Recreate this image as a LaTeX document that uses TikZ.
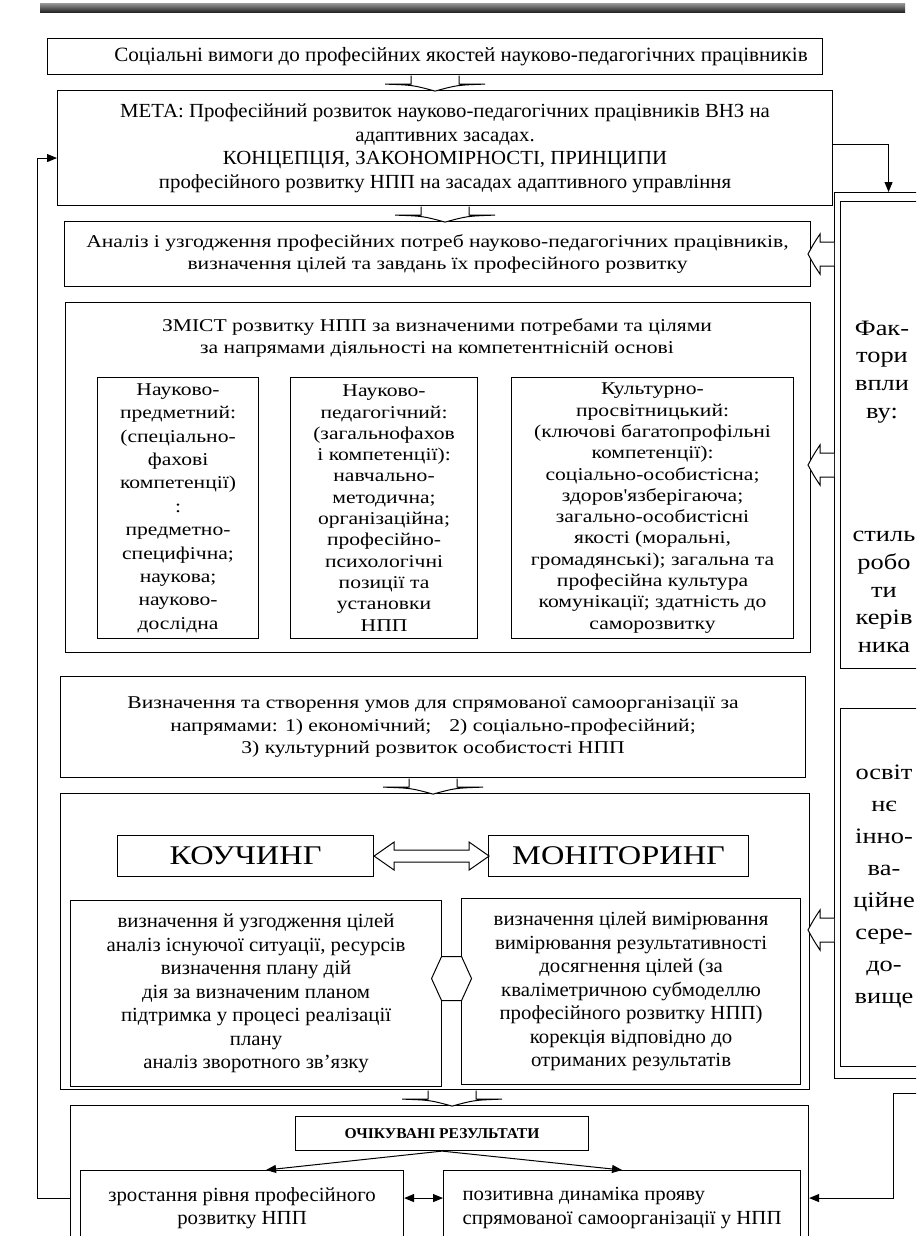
\documentclass[tikz,border=0pt]{standalone}
\usepackage{fontspec}
\setmainfont{Liberation Serif}[FakeStretch=1.04]
\newfontfamily\widefont{Liberation Serif}[FakeStretch=1.2]
\usetikzlibrary{arrows.meta,calc}

\begin{document}
\begin{tikzpicture}[x=1pt,y=-1pt,
    box/.style={draw,line width=1.1pt,anchor=north west,inner sep=0pt,align=center,fill=white},
    hollow/.style={draw,line width=1pt,fill=white},
    narrow/.style={font=\fontsize{20}{23.5}\selectfont},
    wide/.style={font=\widefont\fontsize{18}{22.5}\selectfont},
    factortext/.style={font=\widefont\fontsize{22}{27.7}\selectfont,align=center},
    >={Triangle[length=10pt,width=8pt]},
    downarrow/.pic={\draw[hollow] (-24,0.6) -- (-24,9) -- (-50,9) .. controls (-22,10) .. (0,16) .. controls (22,10) .. (50,9) -- (24,9) -- (24,0.6);},
    leftarrow/.pic={\draw[hollow] (0,-12) -- (-14,-12) -- (-14,-20) .. controls (-20,-11) .. (-26,0) .. controls (-20,11) .. (-14,20) -- (-14,12) -- (0,12);}
  ]
  \useasboundingbox (0,0) rectangle (916,1236);
  \clip (0,0) rectangle (916,1236);
  \fill[white] (0,0) rectangle (916,1236);

  %top rule
  \shade[top color=black!45,bottom color=black!90] (40,4) rectangle (905,13);

  %goal
  \node[box,font=\fontsize{20.3}{23.5}\selectfont,minimum width=775,minimum height=36] (social) at (47,38)
    {\hspace*{52pt}Соціальні вимоги до професійних якостей науково-педагогічних працівників};
  \node[box,narrow,minimum width=775,minimum height=115] (goal) at (57,90)
    {МЕТА: Професійний розвиток науково-педагогічних працівників ВНЗ на\\
     адаптивних засадах.\\
     КОНЦЕПЦІЯ, ЗАКОНОМІРНОСТІ, ПРИНЦИПИ\\
     професійного розвитку НПП на засадах адаптивного управління};
  \node[box,wide,minimum width=746,minimum height=65] (analysis) at (64,221)
    {Аналіз і узгодження професійних потреб науково-педагогічних працівників,\\
     визначення цілей та завдань їх професійного розвитку};

  %content
  \node[box,minimum width=745,minimum height=350] (content) at (65,302) {};
  \node[wide,align=center] (contenttitle) at (437,338)
    {ЗМІСТ розвитку НПП за визначеними потребами та цілями\\
     за напрямами діяльності на компетентнісній основі};
  \node[box,font=\widefont\fontsize{18}{23.4}\selectfont,minimum width=161,minimum height=261] (subject) at (97,377)
    {Науково-\\предметний:\\(спеціально-\\фахові\\компетенції)\\:\\предметно-\\специфічна;\\наукова;\\науково-\\дослідна};
  \node[box,font=\widefont\fontsize{18}{21.3}\selectfont,minimum width=187,minimum height=261] (pedagogy) at (290,377)
    {Науково-\\педагогічний:\\(загальнофахов\\і компетенції):\\навчально-\\методична;\\організаційна;\\професійно-\\психологічні\\позиції та\\установки\\НПП};
  \node[box,font=\widefont\fontsize{18}{21.3}\selectfont,minimum width=282,minimum height=261] (culture) at (511,377)
    {Культурно-\\просвітницький:\\(ключові багатопрофільні\\компетенції):\\соціально-особистісна;\\здоров'язберігаюча;\\загально-особистісні\\якості (моральні,\\громадянські); загальна та\\професійна культура\\комунікації; здатність до\\саморозвитку};

  %conditions
  \node[box,wide,minimum width=745,minimum height=101] (conditions) at (60,676)
    {Визначення та створення умов для спрямованої самоорганізації за\\
     напрямами: 1) економічний;\quad 2) соціально-професійний;\\
     3) культурний розвиток особистості НПП};

  %coaching and monitoring
  \node[box,minimum width=749,minimum height=296] (coach) at (60,793) {};
  \node[box,font=\widefont\fontsize{27}{30}\selectfont,minimum width=256,minimum height=41] (coaching) at (117,835) {КОУЧИНГ};
  \node[box,font=\widefont\fontsize{27}{30}\selectfont,minimum width=260,minimum height=41] (monitoring) at (488,835) {МОНІТОРИНГ};
  \node[box,narrow,minimum width=371,minimum height=186] (cleft) at (70,900)
    {визначення й узгодження цілей\\аналіз існуючої ситуації, ресурсів\\визначення плану дій\\дія за визначеним планом\\підтримка у процесі реалізації\\плану\\аналіз зворотного зв'язку};
  \node[box,narrow,minimum width=339,minimum height=186] (cright) at (461,898)
    {визначення цілей вимірювання\\вимірювання результативності\\досягнення цілей (за\\кваліметричною субмоделлю\\професійного розвитку НПП)\\корекція відповідно до\\отриманих результатів};

  %results
  \node[box,minimum width=738,minimum height=185] (results) at (70,1105) {};
  \node[box,font=\bfseries\fontsize{15}{18}\selectfont,minimum width=293,minimum height=34] (expected) at (295,1116) {ОЧІКУВАНІ РЕЗУЛЬТАТИ};
  \node[box,narrow,minimum width=323,minimum height=75] (rleft) at (80,1170)
    {зростання рівня професійного\\розвитку НПП};
  \node[box,narrow,align=left,minimum width=357,minimum height=75] (rright) at (443,1170)
    {позитивна динаміка прояву\\спрямованої самоорганізації у НПП};

  %factors
  \node[box,minimum width=108,minimum height=886] (factors) at (834,192) {};
  \node[box,minimum width=100,minimum height=467] (leader) at (840,201) {};
  \node[box,minimum width=100,minimum height=358] (environment) at (840,708) {};
  \node[factortext] (influence) at (882,372) {Фак-\\тори\\впли\\ву:};
  \node[factortext] (style) at (884,592) {стиль\\робо\\ти\\керів\\ника};
  \node[factortext,font=\widefont\fontsize{22}{32}\selectfont] (medium) at (884,886)
    {освіт\\нє\\інно-\\ва-\\ційне\\сере-\\до-\\вище};

  %hollow arrows
  \pic at (social.south) {downarrow};
  \pic at (goal.south) {downarrow};
  \pic at (conditions.south) {downarrow};
  \pic at ($(cleft.east |- coach.south)+(10,0)$) {downarrow};
  \pic at (factors.west |- analysis.east) {leftarrow};
  \pic at (factors.west |- 0,465) {leftarrow};
  \pic at (factors.west |- 0,930) {leftarrow};
  \draw[hollow] (coaching.east) -- ++(20,-14) -- ++(0,8) -- ++(75,0) -- ++(0,-8) -- ++(20,14)
    -- ++(-20,14) -- ++(0,-8) -- ++(-75,0) -- ++(0,8) -- cycle;
  \draw[hollow,shift={($(cleft.east)!0.5!(cright.west)+(0,-14)$)}]
    (-20,0) -- (-10,-22) -- (10,-22) -- (20,0) -- (10,22) -- (-10,22) -- cycle;

  %arrows
  \coordinate (fback) at (930,1093);
  \draw[->,line width=1pt] ([yshift=4pt]goal.east) -| (factors.north);
  \draw[->,line width=1pt] (results.west) -- ++(-33,0) |- ([yshift=-10pt]goal.west);
  \draw[->,line width=1pt] (fback) -- (893,1093) |- (results.east);
  \draw[->,line width=1pt] (expected.south) -- ([xshift=24pt]rleft.north);
  \draw[->,line width=1pt] (expected.south) -- (rright.north);
  \draw[<->,line width=1pt] ([yshift=10pt]rleft.east) -- ([yshift=10pt]rright.west);
\end{tikzpicture}
\end{document}
